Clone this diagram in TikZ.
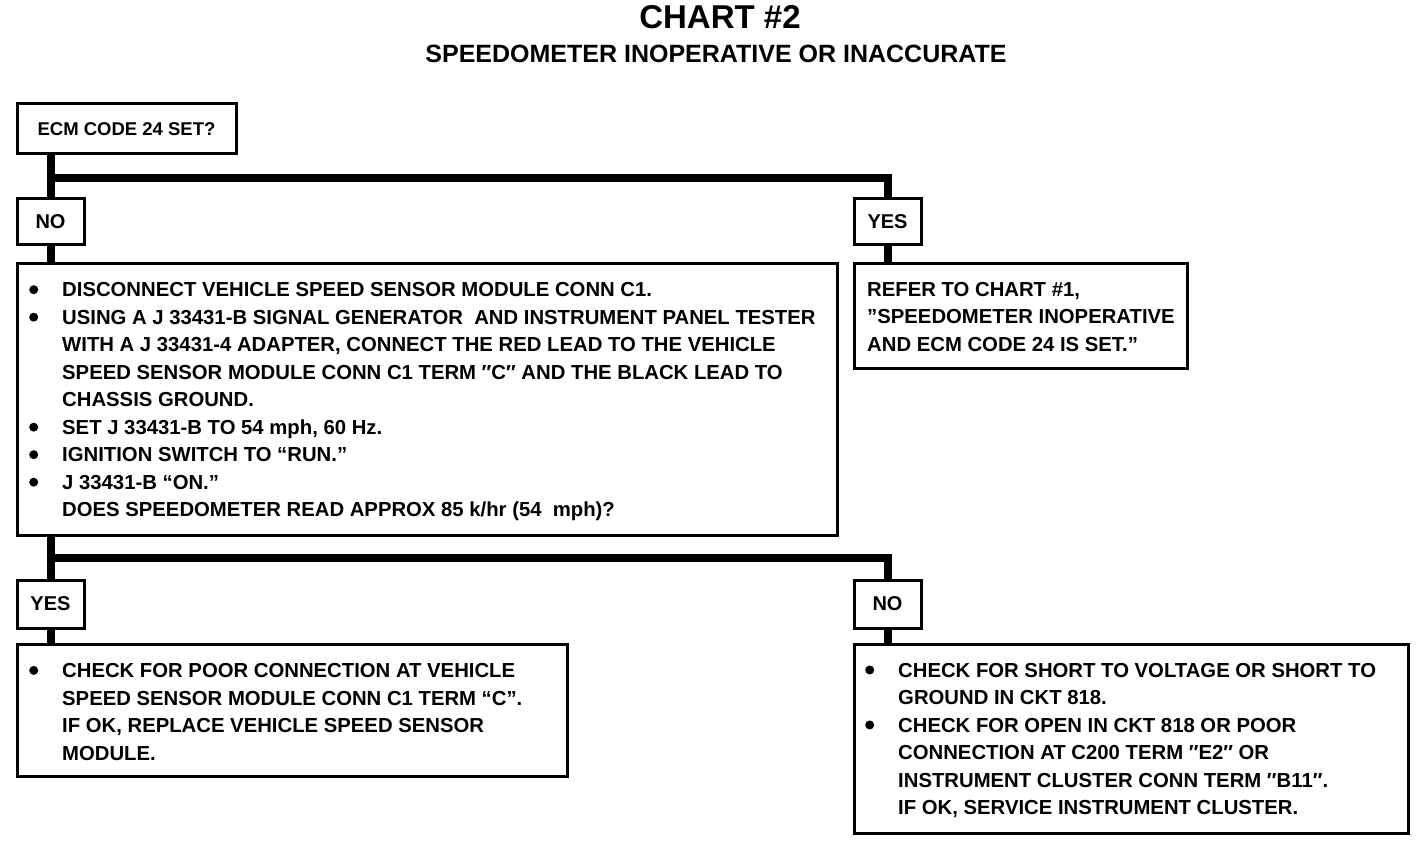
\documentclass[tikz,border=0pt]{standalone}
\usepackage{fontspec}
\setmainfont{Liberation Sans}
\newcommand\bl{\makebox[33pt][l]{\tikz[baseline=0pt]\fill (4.5pt,7.3pt) circle[radius=4.5pt];}}
\newcommand\ind{\hspace*{33pt}}
\tikzset{
  box/.style={draw, line width=3pt, fill=white, anchor=north west, outer sep=0pt, inner sep=0pt},
  conn/.style={line width=8pt},
  txt/.style={font=\fontsize{20.3}{27.5}\selectfont\bfseries, align=left, anchor=west, inner sep=0pt},
  lbl/.style={font=\fontsize{20}{24}\selectfont\bfseries},
}
\begin{document}
\begin{tikzpicture}[x=1pt,y=-1pt]
\useasboundingbox (0,0) rectangle (1424,842);
% titles
\node[font=\fontsize{33}{40}\selectfont\bfseries] (title) at (720,17.5) {CHART \#2};
\node[font=\fontsize{25}{30}\selectfont\bfseries] (subtitle) at (716,54) {SPEEDOMETER INOPERATIVE OR INACCURATE};
% boxes
\node[box, minimum width=219pt, minimum height=50pt, font=\fontsize{18.5}{22}\selectfont\bfseries] (ecm) at (17,104) {ECM CODE 24 SET?};
\node[box, lbl, minimum width=67pt, minimum height=46pt] (no1) at (17,199) {NO};
\node[box, lbl, minimum width=67pt, minimum height=46pt] (yes1) at (854,199) {YES};
\node[box, minimum width=820pt, minimum height=271pt] (big) at (17,264) {};
\node[box, minimum width=333pt, minimum height=104pt] (refer) at (854,264) {};
\node[box, lbl, minimum width=67pt, minimum height=48pt] (yes2) at (17,580) {YES};
\node[box, lbl, minimum width=67pt, minimum height=48pt] (no2) at (854,580) {NO};
\node[box, minimum width=550pt, minimum height=132pt] (bleft) at (17,644) {};
\node[box, minimum width=554pt, minimum height=189pt] (bright) at (854,644) {};
% connectors
\coordinate (j1) at (50.5,178);
\coordinate (j2) at (50.5,558);
\draw[conn] (no1.north |- ecm.south) -- (no1.north);
\draw[conn] (j1) -| (yes1.north);
\draw[conn] (no1.south) -- (no1.south |- big.north);
\draw[conn] (yes1.south) -- (yes1.south |- refer.north);
\draw[conn] (yes2.north |- big.south) -- (yes2.north);
\draw[conn] (j2) -| (no2.north);
\draw[conn] (yes2.south) -- (yes2.south |- bleft.north);
\draw[conn] (no2.south) -- (no2.south |- bright.north);
% texts
\node[txt] (bigtext) at ([xshift=12pt, yshift=-2.5pt]big.west) {%
\bl DISCONNECT VEHICLE SPEED SENSOR MODULE CONN C1.\\
\bl USING A J 33431-B SIGNAL GENERATOR\ \ AND INSTRUMENT PANEL TESTER\\
\ind WITH A J 33431-4 ADAPTER, CONNECT THE RED LEAD TO THE VEHICLE\\
\ind SPEED SENSOR MODULE CONN C1 TERM ″C″ AND THE BLACK LEAD TO\\
\ind CHASSIS GROUND.\\
\bl SET J 33431-B TO 54 mph, 60 Hz.\\
\bl IGNITION SWITCH TO “RUN.”\\
\bl J 33431-B “ON.”\\
\ind DOES SPEEDOMETER READ APPROX 85 k/hr (54\ \ mph)?};
\node[txt] (refertext) at ([xshift=13pt, yshift=-1pt]refer.west) {%
REFER TO CHART \#1,\\
”SPEEDOMETER INOPERATIVE\\
AND ECM CODE 24 IS SET.”};
\node[txt] (blefttext) at ([xshift=12pt, yshift=-2pt]bleft.west) {%
\bl CHECK FOR POOR CONNECTION AT VEHICLE\\
\ind SPEED SENSOR MODULE CONN C1 TERM “C”.\\
\ind IF OK, REPLACE VEHICLE SPEED SENSOR\\
\ind MODULE.};
\node[txt] (brighttext) at ([xshift=11pt, yshift=-2pt]bright.west) {%
\bl CHECK FOR SHORT TO VOLTAGE OR SHORT TO\\
\ind GROUND IN CKT 818.\\
\bl CHECK FOR OPEN IN CKT 818 OR POOR\\
\ind CONNECTION AT C200 TERM ″E2″ OR\\
\ind INSTRUMENT CLUSTER CONN TERM ″B11″.\\
\ind IF OK, SERVICE INSTRUMENT CLUSTER.};
\end{tikzpicture}
\end{document}
